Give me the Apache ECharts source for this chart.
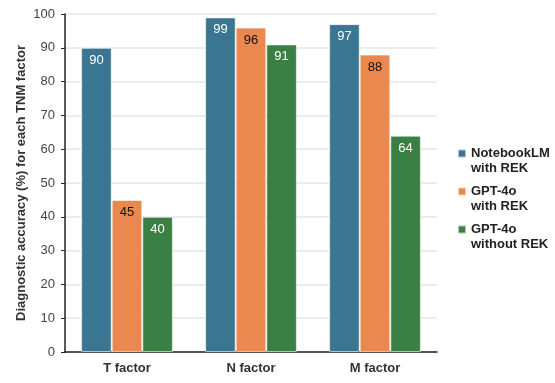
<!DOCTYPE html>
<html lang="en" style="height: 100%">
<head>
  <meta charset="utf-8">
  <title>TNM factor accuracy</title>
</head>
<body style="height: 100%; margin: 0; background: #fff">
  <div id="container" style="width: 555px; height: 383px"></div>
  <script type="text/javascript" src="https://fastly.jsdelivr.net/npm/echarts@6.0.0/dist/echarts.min.js"></script>
  <script type="text/javascript">
    const factors = ['T factor', 'N factor', 'M factor'];
    const notebookLM = [90, 99, 97];
    const gpt4oRek = [45, 96, 88];
    const gpt4oNoRek = [40, 91, 64];
    const seriesNames = ['NotebookLM\nwith REK', 'GPT-4o\nwith REK', 'GPT-4o\nwithout REK'];

    var dom = document.getElementById('container');
    var myChart = echarts.init(dom, null, { renderer: 'canvas' });

    // square aligned with the first text line (tiny dots stretch the box)
    const legendIcon = 'path://M0,0L0.05,0L0.05,0.05Z M0,3.5L8,3.5L8,11.5L0,11.5Z M0,30L0.05,30L0.05,30.05Z';

    function bar(name, data, color, labelColor) {
      return {
        name: name,
        type: 'bar',
        data: data,
        barGap: '0%',
        barCategoryGap: '26%',
        itemStyle: { color: color, borderColor: 'rgba(255,255,255,0.6)', borderWidth: 1 },
        label: {
          show: true,
          position: 'insideTop',
          distance: 6,
          color: labelColor,
          fontSize: 13,
          fontFamily: 'Liberation Sans, Arial, sans-serif'
        }
      };
    }

    var option = {
      animation: false,
      textStyle: { fontFamily: 'Liberation Sans, Arial, sans-serif' },
      grid: { left: 65, right: 118, top: 14, bottom: 31 },
      legend: {
        orient: 'vertical',
        left: 452,
        top: 140,
        itemWidth: 8,
        itemHeight: 30,
        itemGap: 6,
        icon: legendIcon,
        textStyle: { fontSize: 13, fontWeight: 'bold', color: '#222', lineHeight: 15 },
        data: seriesNames
      },
      xAxis: {
        type: 'category',
        data: factors,
        axisLine: { lineStyle: { color: '#222', width: 1.5 } },
        axisTick: { show: false },
        axisLabel: { fontSize: 13, fontWeight: 'bold', color: '#333', margin: 10 }
      },
      yAxis: {
        type: 'value',
        min: 0,
        max: 100,
        interval: 10,
        name: 'Diagnostic accuracy (%) for each TNM factor',
        nameLocation: 'middle',
        nameGap: 37,
        nameMoveOverlap: false,
        nameTextStyle: { fontSize: 13, fontWeight: 'bold', color: '#333' },
        axisLine: { show: true, lineStyle: { color: '#222', width: 1.5 } },
        axisTick: { show: true, length: 4, lineStyle: { color: '#222' } },
        axisLabel: { fontSize: 13, color: '#444', margin: 10 },
        splitLine: { lineStyle: { color: '#e6e6e6', width: 1.5 } }
      },
      series: [
        bar(seriesNames[0], notebookLM, '#3a7592', '#fff'),
        bar(seriesNames[1], gpt4oRek, '#eb8850', '#111'),
        bar(seriesNames[2], gpt4oNoRek, '#3a8044', '#fff')
      ]
    };

    myChart.setOption(option);
    window.addEventListener('resize', myChart.resize);
  </script>
</body>
</html>
